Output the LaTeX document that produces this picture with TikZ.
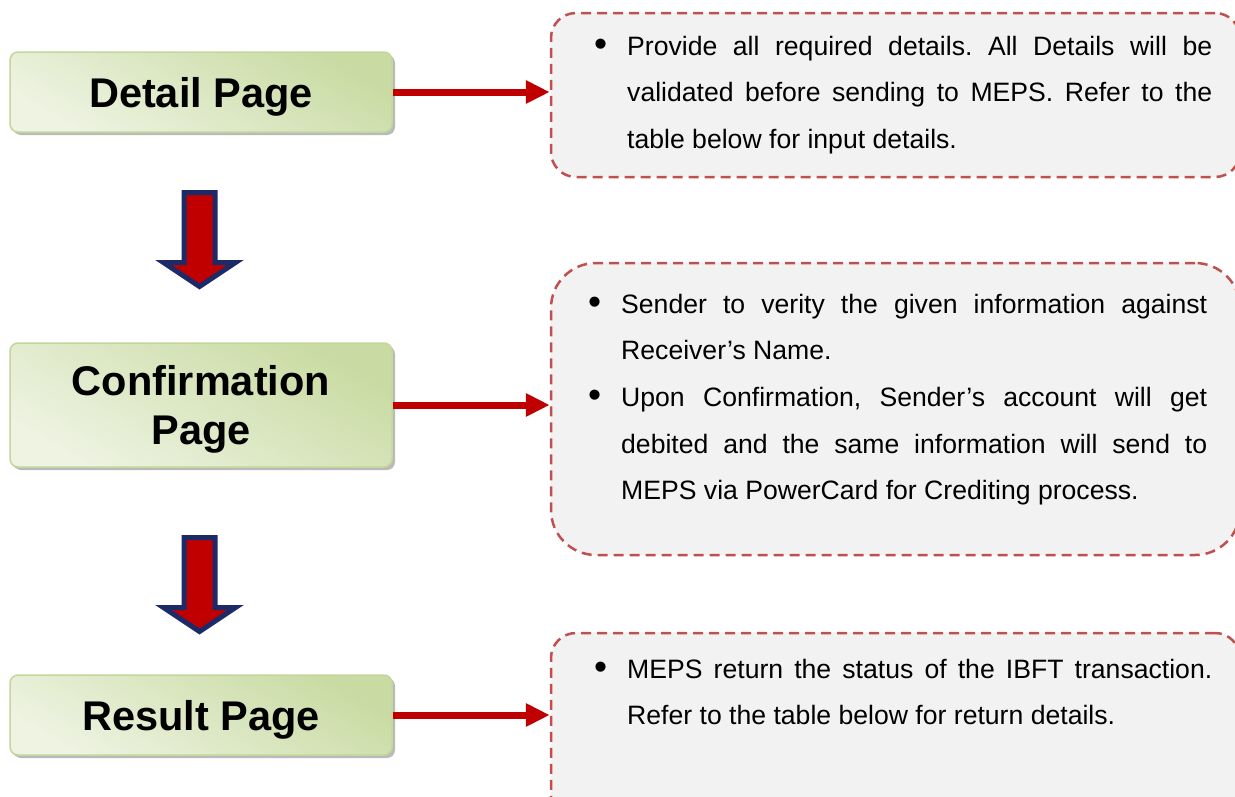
\documentclass[tikz,border=0pt]{standalone}
\usepackage{fontspec}
\setmainfont{Liberation Sans}
\usetikzlibrary{arrows.meta,shadows}

\definecolor{dashred}{HTML}{C0504D}
\definecolor{notefill}{HTML}{F2F2F2}
\definecolor{linkred}{HTML}{C00000}
\definecolor{navyedge}{HTML}{1C2A68}
\definecolor{gEdge}{HTML}{C3D69B}
\definecolor{gDeep}{HTML}{C9DBA3}
\definecolor{gLite}{HTML}{EEF3E2}

\newcommand\bul{\leavevmode\llap{\raisebox{-1pt}{\scalebox{1.4}{\textbullet}}\hspace{20pt}}}

\tikzset{
  pagebox/.style={rectangle,rounded corners=8pt,draw=gEdge,line width=1.5pt,
    top color=gDeep,bottom color=gLite,shading angle=-30,
    minimum width=382pt,align=center,inner sep=0pt,text depth=0pt,
    font=\fontsize{41.5}{49}\selectfont\bfseries,
    drop shadow={shadow xshift=3pt,shadow yshift=-3pt,fill=black!45,opacity=.6}},
  notebox/.style={rectangle,rounded corners=25pt,draw=dashred,line width=2.5pt,
    dash pattern=on 10pt off 6pt,fill=notefill,minimum width=689pt},
  notetext/.style={anchor=base west,inner sep=0pt,text width=585pt,align=justify,
    font=\fontsize{26.6}{46.7}\selectfont\frenchspacing},
  linkarrow/.style={draw=linkred,line width=7pt,-{Triangle[length=24pt,width=22pt]}},
  blockarrow/.style={fill=linkred,draw=navyedge,line width=5pt,line join=miter}
}

\begin{document}
\begin{tikzpicture}[x=1pt,y=-1pt]
  \useasboundingbox (0,0) rectangle (1235,796);

  % page boxes
  \begin{scope}[every node/.style={pagebox}]
    \node[minimum height=80pt]  (g1) at (201,92)  {Detail Page};
    \node[minimum height=124pt] (g2) at (201,405) {Confirmation\\Page};
    \node[minimum height=80pt]  (g3) at (201,715) {Result Page};
  \end{scope}

  % note boxes
  \begin{scope}[every node/.style={notebox}]
    \node[minimum height=164pt]                    (b1) at (895.5,95)  {};
    \node[minimum height=292pt,rounded corners=45pt] (b2) at (895.5,409) {};
    \node[minimum height=200pt]                    (b3) at (895.5,733) {};
  \end{scope}

  \node[notetext] (t1) at (627,55) {\bul Provide all required details. All Details will be\linebreak
    validated before sending to MEPS. Refer to the\linebreak table below for input details.};
  \node[notetext,text width=586pt] (t2) at (621,313) {\bul Sender to verity the given information against\linebreak
    Receiver’s Name.\par
    \bul Upon Confirmation, Sender’s account will get\linebreak
    debited and the same information will send to\linebreak
    MEPS via PowerCard for Crediting process.};
  \node[notetext] (t3) at (627,678) {\bul MEPS return the status of the IBFT transaction.\linebreak
    Refer to the table below for return details.};

  % links
  \draw[linkarrow] (g1.east) -- (g1.east -| b1.west);
  \draw[linkarrow] (g2.east) -- (g2.east -| b2.west);
  \draw[linkarrow] (g3.east) -- (g3.east -| b3.west);

  % down arrows
  \coordinate (a1) at (199.5,192.5);
  \coordinate (a2) at (199.5,537.5);
  \foreach \a in {a1,a2}
    \draw[blockarrow] (\a) +(-15.5,0) -- +(15.5,0) -- +(15.5,70) -- +(36,70)
      -- +(0,94) -- +(-36,70) -- +(-15.5,70) -- cycle;
\end{tikzpicture}
\end{document}
